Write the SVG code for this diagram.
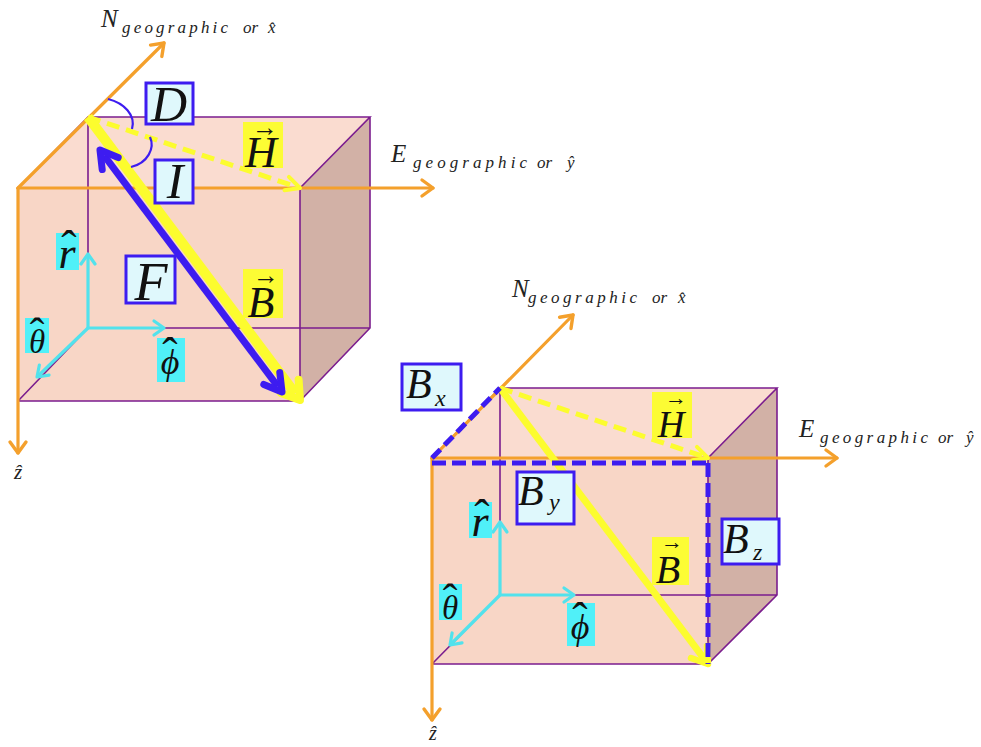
<svg xmlns="http://www.w3.org/2000/svg" width="981" height="747" viewBox="0 0 981 747">
<style>
.front{fill:#f8d6c6}.top{fill:#fadcd0}.side{fill:#d2b1a6}
.edge{stroke:#7b1d8e;stroke-width:1.6;fill:none}
.or{stroke:#f4a02c;stroke-width:3.2;fill:none;stroke-linecap:round}
.cy{stroke:#52e2ec;stroke-width:3.2;fill:none}
.yb{stroke:#fcfc2e;fill:none}
.bl{stroke:#3d1cf0;fill:none}
.lbox{fill:#dff8fc;stroke:#3d1cf0;stroke-width:3}
.ybox{fill:#fcfc34}
.cbox{fill:#50f0f8}
.m{font-family:"Liberation Serif","Times New Roman",serif;font-style:italic;fill:#111;text-anchor:middle}
.ml{font-family:"Liberation Serif","Times New Roman",serif;font-style:italic;fill:#111}
.acc{font-style:normal}
.ax{font-family:"Liberation Serif","Times New Roman",serif;font-style:italic;fill:#222}
</style>
<defs>
<marker id="ao" markerUnits="userSpaceOnUse" viewBox="-30 -20 40 40" markerWidth="40" markerHeight="40" refX="0" refY="0" orient="auto" overflow="visible"><path d="M-11,-8 L0,0 L-11,8" fill="none" stroke="#f4a02c" stroke-width="3.4" stroke-linecap="round" stroke-linejoin="round"/></marker>
<marker id="ac" markerUnits="userSpaceOnUse" viewBox="-30 -20 40 40" markerWidth="40" markerHeight="40" refX="0" refY="0" orient="auto" overflow="visible"><path d="M-10,-7 L0,0 L-10,7" fill="none" stroke="#52e2ec" stroke-width="3.2" stroke-linecap="round" stroke-linejoin="round"/></marker>
<marker id="ay" markerUnits="userSpaceOnUse" viewBox="-30 -20 40 40" markerWidth="40" markerHeight="40" refX="-8" refY="0" orient="auto" overflow="visible"><path d="M-17,-11 L0,0 L-17,11" fill="none" stroke="#fcfc2e" stroke-width="8" stroke-linecap="round" stroke-linejoin="round"/></marker>
<marker id="ay2" markerUnits="userSpaceOnUse" viewBox="-30 -20 40 40" markerWidth="40" markerHeight="40" refX="-6" refY="0" orient="auto" overflow="visible"><path d="M-15,-10 L0,0 L-15,10" fill="none" stroke="#fcfc2e" stroke-width="6.5" stroke-linecap="round" stroke-linejoin="round"/></marker>
<marker id="ayd" markerUnits="userSpaceOnUse" viewBox="-30 -20 40 40" markerWidth="40" markerHeight="40" refX="0" refY="0" orient="auto" overflow="visible"><path d="M-14,-7 L0,0 L-14,7" fill="none" stroke="#fcfc2e" stroke-width="4" stroke-linecap="round" stroke-linejoin="round"/></marker>
<marker id="ab" markerUnits="userSpaceOnUse" viewBox="-30 -20 40 40" markerWidth="40" markerHeight="40" refX="-7" refY="0" orient="auto-start-reverse" overflow="visible"><path d="M-17,-10 L0,0 L-17,10" fill="none" stroke="#3d1cf0" stroke-width="7" stroke-linecap="round" stroke-linejoin="round"/></marker>
</defs>

<g id="left-box">
<polygon class="front" points="18,188 300,188 300,401 18,401"/>
<polygon class="top" points="18,188 88,117 370,117 300,188"/>
<polygon class="side" points="300,188 370,117 370,328 300,401"/>
<path class="edge" d="M18,188 L88,117 L370,117 L300,188 Z M300,188 L300,401 L18,401 M370,117 L370,328 L300,401 M88,117 L88,328 L370,328 M18,401 L88,328"/>
</g>
<g id="right-box">
<polygon class="front" points="432,458 708,458 708,664 432,664"/>
<polygon class="top" points="432,458 500,388 777,388 708,458"/>
<polygon class="side" points="708,458 777,388 777,595 708,664"/>
<path class="edge" d="M432,458 L500,388 L777,388 L708,458 Z M708,458 L708,664 L432,664 M777,388 L777,595 L708,664 M500,388 L500,595 L777,595 M432,664 L500,595"/>
</g>

<g id="connectors">
<line class="or" x1="18" y1="188" x2="164" y2="43" marker-end="url(#ao)"/>
<line class="or" x1="18" y1="188" x2="433" y2="188" marker-end="url(#ao)"/>
<line class="or" x1="18" y1="188" x2="18" y2="453" marker-end="url(#ao)"/>
<line class="cy" x1="88" y1="328" x2="88" y2="254" marker-end="url(#ac)"/>
<line class="cy" x1="88" y1="328" x2="164" y2="328" marker-end="url(#ac)"/>
<line class="cy" x1="88" y1="328" x2="37" y2="377" marker-end="url(#ac)"/>
<line class="yb" stroke-width="5" stroke-dasharray="13,7" x1="88" y1="117" x2="300" y2="188" marker-end="url(#ayd)"/>
<line class="yb" stroke-width="10" x1="88" y1="117" x2="295.2" y2="393.6" marker-end="url(#ay)"/>
<line class="bl" stroke-width="7" x1="104.2" y1="155.6" x2="277.8" y2="386.4" marker-start="url(#ab)" marker-end="url(#ab)"/>
<path class="bl" stroke-width="2.2" d="M108,99 C124,103 136,115 132,129"/>
<path class="bl" stroke-width="2.2" d="M150,137 C155,148 148,163 131,167"/>
<line class="or" x1="432" y1="458" x2="573" y2="315" marker-end="url(#ao)"/>
<line class="or" x1="432" y1="458" x2="837" y2="458" marker-end="url(#ao)"/>
<line class="or" x1="432" y1="458" x2="432" y2="720" marker-end="url(#ao)"/>
<line class="cy" x1="500" y1="595" x2="500" y2="522" marker-end="url(#ac)"/>
<line class="cy" x1="500" y1="595" x2="574" y2="595" marker-end="url(#ac)"/>
<line class="cy" x1="500" y1="595" x2="450" y2="645" marker-end="url(#ac)"/>
<line class="yb" stroke-width="5" stroke-dasharray="13,7" x1="500" y1="388" x2="708" y2="458" marker-end="url(#ayd)"/>
<line class="yb" stroke-width="7" x1="500" y1="388" x2="704.4" y2="659.2" marker-end="url(#ay2)"/>
<line class="bl" stroke-width="5" stroke-dasharray="12,6" x1="432" y1="458" x2="500" y2="388"/>
<line class="bl" stroke-width="5" stroke-dasharray="14,6" x1="432" y1="463" x2="708" y2="463"/>
<line class="bl" stroke-width="5" stroke-dasharray="14,6" x1="708" y1="463" x2="708" y2="664"/>
</g>

<g id="axis-labels">
<text class="ax" x="101" y="27" font-size="25">N<tspan x="122" y="33" font-size="17" textLength="106" lengthAdjust="spacing">geographic</tspan><tspan x="243" y="33" font-size="17">or</tspan><tspan x="268" y="33" font-size="17">x̂</tspan></text>
<text class="ax" x="391" y="162" font-size="25">E<tspan x="413" y="168" font-size="17" textLength="114" lengthAdjust="spacing">geographic</tspan><tspan x="537" y="168" font-size="17">or</tspan><tspan x="567" y="168" font-size="17">ŷ</tspan></text>
<text class="ax" x="18" y="479" font-size="21" text-anchor="middle">ẑ</text>
<text class="ax" x="512" y="297" font-size="25">N<tspan x="528" y="303" font-size="17" textLength="109" lengthAdjust="spacing">geographic</tspan><tspan x="652" y="303" font-size="17">or</tspan><tspan x="678" y="303" font-size="17">x̂</tspan></text>
<text class="ax" x="799" y="437" font-size="25">E<tspan x="820" y="443" font-size="17" textLength="108" lengthAdjust="spacing">geographic</tspan><tspan x="938" y="443" font-size="17">or</tspan><tspan x="966" y="443" font-size="17">ŷ</tspan></text>
<text class="ax" x="433" y="740" font-size="20" text-anchor="middle">ẑ</text>
</g>

<g id="label-D"><rect class="lbox" x="146" y="83" width="47" height="41"/><text class="m" x="169" y="121" font-size="50">D</text></g>
<g id="label-I"><rect class="lbox" x="155" y="160" width="38" height="43"/><text class="m" x="175" y="198" font-size="50">I</text></g>
<g id="label-F"><rect class="lbox" x="126" y="256" width="49" height="47"/><text class="m" x="151" y="300" font-size="54">F</text></g>
<g id="label-H-left"><rect class="ybox" x="243" y="122" width="40" height="46"/><text class="m" x="261" y="167" font-size="44">H<tspan class="acc" x="265" y="136" font-size="26">→</tspan></text></g>
<g id="label-B-left"><rect class="ybox" x="243" y="269" width="40" height="49"/><text class="m" x="261" y="317" font-size="44">B<tspan class="acc" x="266" y="284" font-size="26">→</tspan></text></g>
<g id="label-r-left"><rect class="cbox" x="56" y="233" width="23" height="37"/><text class="m" x="67" y="268" font-size="44">r<tspan class="acc" x="69" y="263" font-size="46">ˆ</tspan></text></g>
<g id="label-theta-left"><rect class="cbox" x="25" y="318" width="24" height="35"/><text class="m" x="37" y="353" font-size="33">θ<tspan class="acc" x="37" y="348" font-size="44">ˆ</tspan></text></g>
<g id="label-phi-left"><rect class="cbox" x="157" y="338" width="28" height="44"/><text class="m" x="170" y="374" font-size="36">ϕ<tspan class="acc" x="170" y="370" font-size="46">ˆ</tspan></text></g>

<g id="label-Bx"><rect class="lbox" x="402" y="364" width="59" height="46"/><text class="ml" x="406" y="398" font-size="42">B<tspan x="435" y="406" font-size="24">x</tspan></text></g>
<g id="label-By"><rect class="lbox" x="517" y="472" width="57" height="52"/><text class="ml" x="518" y="505" font-size="42">B<tspan x="549" y="510" font-size="24">y</tspan></text></g>
<g id="label-Bz"><rect class="lbox" x="722" y="519" width="57" height="45"/><text class="ml" x="723" y="553" font-size="42">B<tspan x="753" y="560" font-size="24">z</tspan></text></g>
<g id="label-H-right"><rect class="ybox" x="652" y="392" width="40" height="46"/><text class="m" x="671" y="437" font-size="37">H<tspan class="acc" x="676" y="405" font-size="22">→</tspan></text></g>
<g id="label-B-right"><rect class="ybox" x="652" y="537" width="37" height="48"/><text class="m" x="668" y="583" font-size="40">B<tspan class="acc" x="672" y="549" font-size="22">→</tspan></text></g>
<g id="label-r-right"><rect class="cbox" x="469" y="502" width="23" height="36"/><text class="m" x="480" y="536" font-size="44">r<tspan class="acc" x="482" y="532" font-size="46">ˆ</tspan></text></g>
<g id="label-theta-right"><rect class="cbox" x="439" y="584" width="23" height="36"/><text class="m" x="450" y="619" font-size="33">θ<tspan class="acc" x="450" y="614" font-size="44">ˆ</tspan></text></g>
<g id="label-phi-right"><rect class="cbox" x="567" y="603" width="28" height="43"/><text class="m" x="580" y="639" font-size="36">ϕ<tspan class="acc" x="580" y="635" font-size="46">ˆ</tspan></text></g>
</svg>
